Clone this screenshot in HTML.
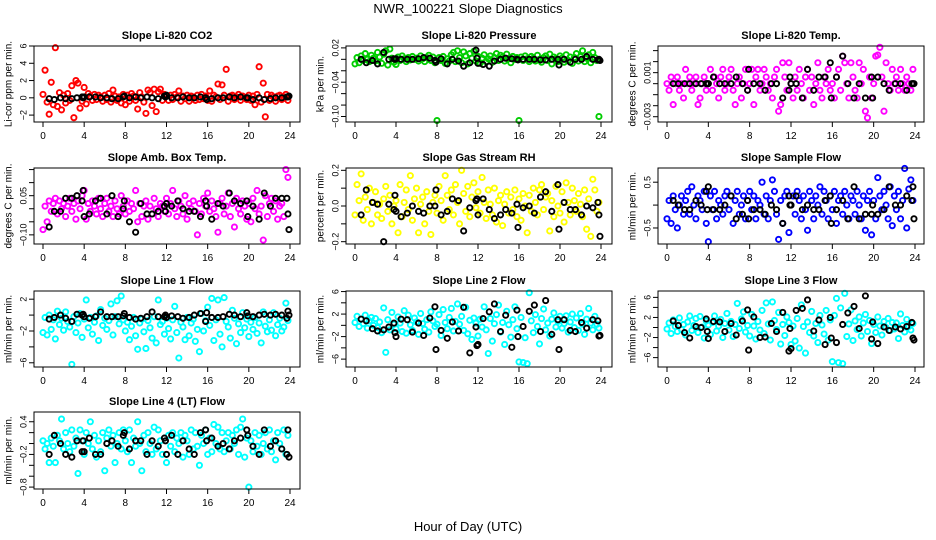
<!DOCTYPE html>
<html><head><meta charset="utf-8"><style>
body{margin:0;background:#fff;}
svg{display:block;font-family:"Liberation Sans",sans-serif;}
</style></head><body>
<svg id="chart" width="936" height="540" viewBox="0 0 936 540" xmlns="http://www.w3.org/2000/svg">
<rect width="936" height="540" fill="#fff"/>
<text x="468" y="13" text-anchor="middle" font-size="13">NWR_100221  Slope Diagnostics</text>
<text x="468" y="531" text-anchor="middle" font-size="13">Hour of Day (UTC)</text>
<g id="panels"></g>
</svg>
<script>
const hours = [0.0,0.2,0.4,0.6,0.8,1.0,1.2,1.4,1.6,1.8,2.0,2.2,2.4,2.6,2.8,3.0,3.2,3.4,3.6,3.8,4.0,4.2,4.4,4.6,4.8,5.0,5.2,5.4,5.6,5.8,6.0,6.2,6.4,6.6,6.8,7.0,7.2,7.4,7.6,7.8,8.0,8.2,8.4,8.6,8.8,9.0,9.2,9.4,9.6,9.8,10.0,10.2,10.4,10.6,10.8,11.0,11.2,11.4,11.6,11.8,12.0,12.2,12.4,12.6,12.8,13.0,13.2,13.4,13.6,13.8,14.0,14.2,14.4,14.6,14.8,15.0,15.2,15.4,15.6,15.8,16.0,16.2,16.4,16.6,16.8,17.0,17.2,17.4,17.6,17.8,18.0,18.2,18.4,18.6,18.8,19.0,19.2,19.4,19.6,19.8,20.0,20.2,20.4,20.6,20.8,21.0,21.2,21.4,21.6,21.8,22.0,22.2,22.4,22.6,22.8,23.0,23.2,23.4,23.6,23.8];
const refHours = [0.6,1.1,1.7,2.2,2.8,3.3,3.8,3.9,4.0,4.5,5.1,5.6,6.2,6.7,7.3,7.8,7.9,8.4,9.0,9.5,10.1,10.6,11.2,11.8,11.9,12.0,12.5,13.1,13.6,14.2,14.7,15.3,15.8,15.9,16.4,17.0,17.5,18.1,18.6,19.2,19.8,19.9,20.4,21.0,21.5,22.1,22.6,23.2,23.7,23.8,23.9];
const xTicks = [0,4,8,12,16,20,24];

const co2Vals = [0.4,3.2,-0.5,-1.9,1.8,-0.8,5.8,-1.0,0.6,-1.4, 0.3,-0.6,0.5,-0.3,1.4,-2.3,2.0,1.7,-1.2,-0.4, 1.2,-0.7,0.5,0.2,-0.3,0.4,-0.2,0.3,0.1,-0.4, 0.3,-0.2,0.5,-0.5,0.9,0.2,-0.3,0.1,-0.6,0.4, -0.8,0.3,-0.4,0.5,0.2,-0.3,-1.3,0.6,0.1,-0.5, -1.8,0.9,0.6,-0.9,1.0,-1.6,0.7,1.0,-0.3,0.4, 0.2,-0.3,0.3,-0.2,0.4,0.1,0.8,-0.4,0.2,-0.1, 0.3,-0.4,0.2,0.1,-0.3,0.3,-0.2,0.4,-0.1,0.2, -0.3,0.8,-0.4,0.3,0.1,1.6,-0.2,1.5,0.3,3.3, -0.4,0.2,0.3,-0.2,0.1,0.4,-0.3,0.2,0.0,-0.2, 0.3,-0.3,0.2,-0.8,0.4,3.6,-0.5,1.7,-2.2,0.4, -0.3,0.3,0.1,-0.4,0.2,0.3,-0.2,0.1,0.4,-0.3];
const co2Ref = [-0.1,-0.2,0.0,-0.1,-0.1,0.0,0.1,0.0,0.1,0.1,0.1,0.0,0.0,-0.1,-0.1,0.1,0.2,0.0,0.1,0.0,0.1,0.0,-0.1,0.2,0.1,0.3,0.0,0.0,0.1,0.0,0.0,0.1,0.0,-0.2,-0.1,0.0,0.0,0.1,0.0,0.1,0.0,0.0,-0.2,0.0,-0.2,-0.1,0.0,0.0,0.1,0.1,0.2];
const presVals = [-0.008,0.003,-0.006,0.006,-0.002,0.010,0.000,-0.004,0.007,0.002, -0.003,0.012,0.004,-0.007,0.009,0.015,-0.010,0.018,0.002,-0.005, -0.009,0.004,-0.002,0.006,0.001,-0.004,0.003,-0.001,0.005,0.000, 0.002,-0.003,0.006,0.001,-0.004,0.003,0.007,-0.002,0.004,-0.006, -0.107,0.003,-0.002,0.005,-0.007,0.001,-0.003,0.008,0.012,-0.004, 0.015,0.003,-0.006,0.013,0.006,-0.008,0.010,0.002,0.014,-0.003, 0.005,-0.007,0.002,0.008,-0.004,0.001,0.006,-0.005,0.003,0.010, -0.002,0.007,0.004,-0.003,0.009,0.001,-0.006,0.005,0.000,0.003, -0.107,0.004,-0.002,0.006,0.001,-0.004,0.005,0.002,-0.003,0.007, 0.000,-0.005,0.003,0.006,-0.002,0.009,-0.008,0.004,0.001,-0.004, 0.006,0.002,-0.005,0.008,-0.002,0.004,-0.007,0.003,0.010,-0.003, 0.005,0.015,-0.004,0.002,0.008,-0.006,0.012,0.003,-0.002,-0.100];
const presRef = [0.000,-0.006,-0.002,-0.008,0.012,0.000,0.001,0.000,0.001,0.000,0.000,0.000,0.001,0.003,0.002,-0.002,-0.005,0.001,-0.008,0.000,-0.003,-0.012,-0.006,0.016,0.002,-0.007,-0.009,-0.012,-0.003,0.000,0.002,0.001,0.000,-0.001,0.000,0.000,0.000,-0.001,-0.001,0.000,0.000,-0.010,0.000,-0.005,0.000,0.000,0.005,0.000,-0.001,0.000,-0.002];
const tempVals = [0,-.0006,.0006,-.0019,0,.0006,-.0006,0,-.0013,.0013, 0,.0006,-.0006,0,.0006,-.0019,-.0013,0,.0006,-.0006, 0,.0013,-.0006,.0006,0,-.0013,.0006,.0013,-.0006,0, .0006,.0013,-.0006,-.0019,0,.0006,-.0013,0,.0013,-.0006, 0,.0013,-.0019,.0006,.0013,-.0006,0,.0013,.0006,-.0006, 0,-.0013,.0006,.0013,-.0025,-.0019,.0019,.0006,-.0006,.0019, 0,-.0013,.0006,-.0006,.0013,0,-.0013,.0006,.0013,-.0006, .0006,-.0019,0,.0019,-.0006,-.0013,.0006,0,.0013,-.0006, 0,-.0013,.0006,.0013,-.0006,.0025,.0019,0,-.0013,.0019, .0006,-.0006,-.0013,.0019,0,.0013,-.0025,-.0031,.0006,-.0013, 0,.0025,.0026,.0033,.0006,-.0025,.0019,0,-.0006,.0013, 0,.0006,-.0006,.0013,0,-.0006,.0006,0,-.0006,.0013];
const tempRef = [0,0,0,0,0,0,0,0,0,.0006,0,0,0,.0006,0,-.0006,.0013,0,0,-.0006,0,0,-.0013,-.0006,.0006,0,0,-.0013,.0013,-.0006,.0006,.0006,.0019,-.0013,.0006,.0025,0,-.0013,0,-.0013,.0006,-.0013,.0006,0,-.0006,0,0,-.0006,0,0,0];
const ambVals = [-0.08,0.01,-0.05,0.03,-0.01,0.02,0.04,-0.02,0.03,0.00, 0.02,-0.03,0.01,0.04,-0.01,0.02,-0.04,0.03,0.00,0.05, 0.07,-0.04,0.02,-0.01,0.03,0.01,-0.02,0.04,0.00,-0.03, 0.02,0.04,-0.01,0.01,-0.03,0.03,0.00,-0.02,0.05,0.01, -0.02,0.03,-0.01,0.02,0.00,0.07,-0.05,0.02,-0.03,0.01, 0.03,-0.04,0.01,-0.02,0.04,0.00,-0.03,0.02,0.01,-0.01, 0.04,-0.02,0.02,0.07,0.00,-0.03,0.03,0.01,-0.02,0.05, -0.04,0.02,0.00,0.03,-0.01,-0.10,0.02,-0.02,0.04,0.01, 0.06,-0.01,0.03,0.00,-0.03,-0.09,0.02,0.04,-0.02,0.01, 0.06,-0.03,0.02,-0.07,0.04,0.00,-0.02,0.03,0.01,-0.04, 0.02,-0.05,0.04,0.00,0.07,-0.02,0.01,-0.12,0.05,-0.03, 0.02,0.04,-0.01,0.03,-0.04,0.01,0.02,-0.03,0.15,0.12];
const ambRef = [-0.07,-0.01,-0.01,0.04,0.04,0.05,0.03,0.07,-0.03,-0.02,0.03,0.04,-0.02,0.05,-0.03,0.00,0.03,-0.05,-0.09,0.02,-0.02,-0.02,-0.01,0.01,-0.01,0.02,0.01,0.03,0.00,-0.01,-0.01,-0.03,0.03,0.01,-0.04,0.02,0.01,0.06,0.03,0.02,0.03,-0.03,0.01,-0.04,0.06,0.01,0.04,0.04,0.04,-0.02,-0.08];
const rhVals = [-0.05,0.12,0.03,0.18,-0.08,0.05,-0.02,0.10,-0.10,0.02, 0.08,-0.05,0.01,-0.07,0.04,0.11,-0.03,0.06,-0.10,0.00, 0.03,-0.15,0.12,-0.06,0.02,0.09,-0.02,0.17,-0.08,0.04, 0.10,-0.15,0.01,0.05,-0.10,0.08,-0.03,-0.16,0.02,0.06, -0.04,0.11,0.03,-0.08,0.17,0.06,-0.02,0.09,-0.05,0.12, 0.02,-0.10,0.20,0.07,-0.03,0.11,-0.06,0.05,0.13,-0.01, 0.08,-0.04,0.16,0.02,-0.07,0.09,0.01,-0.05,0.10,-0.09, 0.03,0.06,-0.11,0.01,0.08,-0.04,0.05,-0.02,0.09,-0.06, 0.04,-0.08,0.07,0.00,-0.15,0.06,-0.03,0.10,0.02,-0.05, 0.09,0.12,-0.02,0.05,0.07,-0.14,0.03,-0.06,0.11,0.00, -0.04,0.08,-0.09,0.13,0.02,-0.05,0.10,0.03,-0.03,0.07, 0.01,-0.06,0.09,-0.13,0.04,-0.17,0.15,0.09,-0.03,0.02];
const rhRef = [-0.05,0.09,0.02,0.01,-0.20,0.01,-0.02,0.06,-0.03,-0.06,-0.04,0.00,-0.03,-0.04,0.00,0.00,0.09,-0.05,-0.03,0.04,0.03,-0.14,-0.01,0.03,0.04,-0.05,0.04,-0.02,-0.07,-0.05,-0.02,-0.04,0.01,-0.12,-0.01,0.00,-0.04,0.05,0.08,-0.03,0.12,-0.13,0.02,-0.02,-0.02,-0.05,0.00,-0.01,0.02,-0.05,-0.17];
const sampleVals = [-0.3,0.1,-0.4,0.2,-0.1,-0.5,0.0,0.2,-0.2,0.1, 0.3,-0.2,0.4,0.0,-0.3,0.2,0.1,-0.1,0.3,-0.4, -0.8,0.2,-0.1,0.3,-0.3,0.1,0.0,-0.2,0.2,0.3, -0.1,0.2,-0.4,0.1,0.3,-0.2,0.0,0.2,-0.3,0.1, 0.3,-0.1,0.2,-0.3,0.1,0.0,0.5,-0.2,0.2,-0.3, 0.1,0.55,0.3,-0.2,-0.75,0.1,-0.4,0.2,0.3,-0.6, 0.0,0.2,-0.2,0.3,0.1,-0.3,0.2,-0.1,-0.55,0.3, 0.1,-0.3,0.2,0.0,0.4,-0.2,0.3,0.1,-0.3,0.2, -0.1,0.3,-0.4,0.1,0.2,-0.2,0.3,0.0,-0.3,0.2, 0.1,-0.2,0.3,0.0,-0.3,0.2,-0.55,0.1,0.3,-0.65, 0.1,-0.3,0.6,0.2,-0.1,0.3,0.0,-0.3,0.4,-0.45, 0.2,-0.1,0.3,-0.3,0.1,0.8,-0.5,0.35,0.55,0.1];
const sampleRef = [0.1,0.0,-0.1,-0.1,0.1,0.0,0.3,-0.1,0.4,-0.1,-0.1,0.0,0.2,-0.3,-0.2,0.1,-0.3,-0.1,-0.1,-0.2,0.0,-0.1,-0.4,0.2,0.0,0.0,0.2,-0.1,0.0,-0.1,-0.1,0.1,0.2,-0.4,-0.1,0.1,-0.3,0.4,-0.3,-0.2,-0.2,0.0,-0.2,-0.1,0.4,0.0,0.0,0.2,0.1,0.4,-0.3];
const line1Vals = [-2.2,-0.3,-2.5,0.0,-1.8,-0.6,-3.0,0.5,-1.2,-0.4, -1.9,0.4,-0.8,-1.5,-6.2,-0.2,-2.2,-1.0,0.2,-2.8, -0.5,1.9,-1.6,-0.3,-2.4,-0.9,-0.1,-3.2,0.7,-1.3, -0.4,-1.8,-0.7,1.4,-2.5,-0.2,1.8,-1.1,2.4,-0.6, -2.0,-0.9,-3.1,-1.4,-0.3,-2.6,-4.3,-1.0,-0.5,-2.1, -4.2,-0.7,-1.6,-2.9,-0.2,-3.5,1.9,-1.2,-0.8,-2.4, -0.4,-1.7,-3.0,-0.6,1.1,-2.2,-5.4,-0.9,-1.5,-3.1, -0.3,-2.6,-1.0,-0.5,-3.3,-1.8,-4.6,0.2,-2.0,-0.7, 1.0,-1.3,2.1,-3.2,-0.6,1.9,-2.4,-4.0,2.2,-0.8, -1.5,-2.9,0.6,-0.4,-3.6,-1.1,-2.2,0.3,-1.6,-0.5, -2.7,-0.9,-1.8,-0.3,-2.3,-1.0,-3.5,0.4,-1.4,-2.1, -0.6,-1.9,0.3,-2.6,-1.2,-0.4,-2.0,-1.5,1.5,-0.7];
const line1Ref = [-0.5,-0.3,0.0,-0.4,-0.8,0.1,0.0,0.1,-0.2,-0.4,-0.2,0.4,-0.2,-0.2,-0.2,-0.1,0.2,-0.3,-0.5,-0.4,-0.2,0.4,-0.2,-0.2,0.0,-0.3,-0.1,-0.2,-0.4,-0.3,0.0,0.2,-0.8,0.3,-0.3,-0.3,-0.2,0.1,0.0,-0.2,0.3,-0.1,-0.2,0.0,0.1,0.0,0.1,0.0,-0.4,0.5,0.0];
const line2Vals = [0.5,1.6,-0.2,1.1,0.3,1.8,-0.5,0.8,1.4,0.0, 1.2,-0.4,0.6,-1.3,3.1,-4.8,1.0,-0.8,2.3,0.2, -0.6,1.5,0.4,-1.1,2.6,-1.4,1.8,0.1,-0.9,1.3, 0.6,-1.6,2.1,0.3,-0.7,1.0,-1.2,2.4,0.8,-0.2, 0.2,1.9,-1.8,2.8,0.5,-0.6,1.4,3.0,-1.0,0.7, 3.8,0.2,1.6,-0.9,3.2,-1.5,0.9,-2.5,1.3,0.4, -1.9,1.1,-0.3,3.3,-0.8,-5.0,1.2,-2.8,0.3,1.9, 3.6,-1.2,0.5,-3.4,2.5,0.1,-2.1,1.0,3.3,-0.6, -6.5,1.4,-6.6,-2.2,-6.8,5.8,0.8,-1.3,1.9,-0.2, -3.3,1.2,2.9,-0.8,0.4,-1.9,1.1,2.2,-0.3,0.7, 1.6,-0.5,0.3,1.7,-1.2,0.6,2.0,-0.4,1.3,-0.9, 2.1,0.2,-1.6,1.1,3.0,0.4,-0.8,1.6,0.2,-0.5];
const line2Ref = [1.1,0.8,-0.6,-1.0,-0.8,-0.3,0.4,-1.3,-2.0,1.1,1.0,-1.2,0.4,-1.8,1.3,3.3,-4.3,-0.9,-2.3,0.6,-1.0,3.2,-4.9,-0.3,-3.6,-3.4,1.2,2.4,3.8,-1.1,1.8,-3.9,2.7,-2.0,-0.2,2.5,3.6,-1.1,4.4,-1.6,1.0,-4.3,1.0,-0.9,-1.1,0.5,-0.5,1.0,0.8,-1.9,-1.8];
const line3Vals = [-0.3,0.9,-1.2,1.5,0.2,-0.8,1.9,-0.4,0.6,-1.5, 1.1,2.3,-0.6,0.4,1.8,-1.0,2.2,0.1,-2.1,1.3, 0.5,-1.4,1.0,2.3,-0.7,0.3,1.6,-2.0,0.8,2.8, -0.5,1.2,-1.8,0.6,4.8,-0.2,1.7,3.1,-0.9,0.4, -1.7,2.6,0.3,-2.3,1.2,-0.5,3.4,-1.2,4.9,0.7, -2.5,5.1,1.4,-0.4,3.0,-3.3,0.6,-1.6,2.1,1.0, -3.4,0.3,-2.7,1.8,-4.1,4.5,0.2,-5.1,1.1,-1.0, 3.2,-1.7,0.8,-3.0,2.4,0.5,-1.3,3.4,-2.5,1.5, -6.8,2.4,5.8,-7.0,3.9,-7.2,6.8,-1.8,0.7,3.5, -2.6,1.3,-0.4,2.1,-1.7,0.9,2.6,-0.8,1.4,-3.2, 0.6,-1.0,2.1,0.3,-1.5,1.2,0.0,1.8,-0.6,1.0, -0.3,0.9,-2.2,2.7,0.4,-0.9,1.6,0.2,-0.5,0.8];
const line3Ref = [1.3,0.4,-1.0,-2.1,0.2,0.0,1.7,-0.8,-2.2,1.2,1.1,-0.8,0.8,-1.5,1.3,3.5,-4.5,2.1,-2.0,-1.9,0.8,-0.8,3.0,-4.7,-0.2,-4.2,3.4,3.8,5.5,-0.7,1.5,-3.4,2.0,-2.1,-3.0,0.6,2.9,4.2,-0.2,6.3,-2.3,1.1,-3.2,0.1,-0.6,0.1,-0.3,0.2,1.0,-2.1,-2.5];
const line4Vals = [0.05,-0.1,0.0,-0.35,0.1,-0.05,-0.35,0.15,0.05,0.45, -0.1,0.2,0.0,-0.15,0.25,-0.05,0.1,-0.55,0.25,0.05, -0.2,0.2,0.0,0.4,-0.1,0.15,-0.25,0.05,-0.15,0.2, -0.5,0.1,0.25,-0.05,0.15,-0.35,0.0,0.2,-0.1,0.25, 0.05,-0.15,0.25,-0.35,0.1,-0.05,0.4,0.0,-0.5,0.15, -0.15,0.2,0.0,-0.2,0.3,-0.1,0.25,0.05,-0.2,0.1, -0.35,0.15,-0.05,0.2,-0.15,0.1,0.0,0.2,-0.25,0.15, 0.05,-0.2,0.25,-0.1,0.2,-0.05,-0.4,0.15,0.0,0.25, -0.2,0.1,-0.15,0.35,0.0,0.3,-0.1,0.2,-0.15,0.05, 0.2,-0.1,0.15,0.0,0.25,-0.2,0.3,0.45,-0.25,0.1, -0.8,0.05,-0.15,0.2,-0.05,0.15,-0.2,0.0,0.2,-0.1, 0.25,-0.15,0.05,-0.3,0.2,0.0,-0.1,0.25,-0.2,0.15];
const line4Ref = [-0.2,0.15,0.0,-0.2,-0.25,0.05,-0.15,0.05,-0.15,0.1,-0.2,-0.2,0.0,0.05,-0.05,0.15,0.2,-0.1,0.05,0.05,-0.2,0.05,-0.05,0.1,0.05,-0.2,0.15,-0.2,0.05,-0.1,-0.2,0.2,0.25,0.05,0.1,-0.05,0.0,-0.1,0.05,0.1,0.25,0.15,-0.05,-0.2,0.25,-0.05,0.05,-0.1,-0.2,0.25,-0.25];

const co2Ticks = [-2,0,2,4,6], co2Labels = ["\u22122","0","2","4","6"];
const presTicks = [-0.10,-0.08,-0.06,-0.04,-0.02,0,0.02], presLabels = ["\u22120.10","","","\u22120.04","","","0.02"];
const tempTicks = [-0.003,-0.002,-0.001,0,0.001,0.002,0.003], tempLabels = ["\u22120.003","","","","0.001","",""];
const ambTicks = [-0.10,-0.05,0,0.05,0.10,0.15], ambLabels = ["\u22120.10","","","0.05","",""];
const rhTicks = [-0.2,-0.1,0,0.1,0.2], rhLabels = ["\u22120.2","","0.0","","0.2"];
const sampleTicks = [-0.5,0,0.5], sampleLabels = ["\u22120.5","","0.5"];
const line1Ticks = [-6,-4,-2,0,2], line1Labels = ["\u22126","","\u22122","","2"];
const line2Ticks = [-6,-4,-2,0,2,4,6], line2Labels = ["\u22126","","\u22122","","2","","6"];
const line3Ticks = [-6,-4,-2,0,2,4,6], line3Labels = ["\u22126","","\u22122","","2","","6"];
const line4Ticks = [-0.8,-0.6,-0.4,-0.2,0,0.2,0.4], line4Labels = ["\u22120.8","","","\u22120.2","","","0.4"];

const cols = [{l:34,r:300,x0:43,x1:290,yl:9,tl:24},{l:346,r:612,x0:355,x1:601,yl:321,tl:336},{l:658,r:924,x0:667,x1:915,yl:633,tl:648}];
const rows = [{t:46,b:122},{t:168,b:244},{t:291,b:367},{t:412,b:489}];
const panels = [
 {name:"co2",title:"Slope Li-820 CO2",yl:"Li-cor ppm per min.",c:0,r:0,min:-2.8,max:6.0,vals:co2Vals,ref:co2Ref,ticks:co2Ticks,labels:co2Labels,col:"#ff0000"},
 {name:"pressure",title:"Slope Li-820 Pressure",yl:"kPa per min.",c:1,r:0,min:-0.1096,max:0.0233,vals:presVals,ref:presRef,ticks:presTicks,labels:presLabels,col:"#00cd00"},
 {name:"temp",title:"Slope Li-820 Temp.",yl:"degrees C per min.",c:2,r:0,min:-0.00348,max:0.00342,vals:tempVals,ref:tempRef,ticks:tempTicks,labels:tempLabels,col:"#ff00ff"},
 {name:"amb-box-temp",title:"Slope Amb. Box Temp.",yl:"degrees C per min.",c:0,r:1,min:-0.135,max:0.156,vals:ambVals,ref:ambRef,ticks:ambTicks,labels:ambLabels,col:"#ff00ff"},
 {name:"gas-stream-rh",title:"Slope Gas Stream RH",yl:"percent per min.",c:1,r:1,min:-0.213,max:0.213,vals:rhVals,ref:rhRef,ticks:rhTicks,labels:rhLabels,col:"#ffff00"},
 {name:"sample-flow",title:"Slope Sample Flow",yl:"ml/min per min.",c:2,r:1,min:-0.85,max:0.81,vals:sampleVals,ref:sampleRef,ticks:sampleTicks,labels:sampleLabels,col:"#0000ff"},
 {name:"line1-flow",title:"Slope Line 1 Flow",yl:"ml/min per min.",c:0,r:2,min:-6.53,max:3.03,vals:line1Vals,ref:line1Ref,ticks:line1Ticks,labels:line1Labels,col:"#00ffff"},
 {name:"line2-flow",title:"Slope Line 2 Flow",yl:"ml/min per min.",c:1,r:2,min:-7.4,max:6.1,vals:line2Vals,ref:line2Ref,ticks:line2Ticks,labels:line2Labels,col:"#00ffff"},
 {name:"line3-flow",title:"Slope Line 3 Flow",yl:"ml/min per min.",c:2,r:2,min:-7.87,max:7.27,vals:line3Vals,ref:line3Ref,ticks:line3Ticks,labels:line3Labels,col:"#00ffff"},
 {name:"line4-flow",title:"Slope Line 4 (LT) Flow",yl:"ml/min per min.",c:0,r:3,min:-0.835,max:0.579,vals:line4Vals,ref:line4Ref,ticks:line4Ticks,labels:line4Labels,col:"#00ffff"}
];
const NS="http://www.w3.org/2000/svg";
function mk(tag,attrs,parent,txt){const e=document.createElementNS(NS,tag);for(const k in attrs)e.setAttribute(k,attrs[k]);if(txt!==undefined)e.textContent=txt;parent.appendChild(e);return e;}
const root=document.getElementById('panels');
panels.forEach(p=>{
  const C=cols[p.c],R=rows[p.r];
  const xs=h=>C.x0+(h/24)*(C.x1-C.x0);
  const ys=v=>R.b-(v-p.min)/(p.max-p.min)*(R.b-R.t);
  const g=mk('g',{},root);
  
  
  const t=mk('text',{x:(C.l+C.r)/2,y:R.t-7,'text-anchor':'middle','font-size':'11','font-weight':'bold'},g,p.title);
  
  
  const cy=(R.t+R.b)/2;
  const yt=mk('text',{x:C.yl,y:cy,'text-anchor':'middle','font-size':'10',transform:`rotate(-90 ${C.yl} ${cy})`,'dominant-baseline':'middle'},g,p.yl);
  
  
  const pts=mk('g',{fill:'none',stroke:p.col,'stroke-width':'1.9'},g);
  
  
  const n=Math.min(hours.length,p.vals.length);
  for(let i=0;i<n;i++){const c=mk('circle',{cx:xs(hours[i]),cy:ys(p.vals[i]),r:2.6},pts);
    
    }
  const rp=mk('g',{fill:'none',stroke:'#000','stroke-width':'1.9'},g);
  
  
  const m=Math.min(refHours.length,p.ref.length);
  for(let i=0;i<m;i++){const c=mk('circle',{cx:xs(refHours[i]),cy:ys(p.ref[i]),r:2.6},rp);
    
    }
  const box=mk('rect',{x:C.l,y:R.t,width:C.r-C.l,height:R.b-R.t,fill:'none',stroke:'#000','stroke-width':'1'},g);
  
  
  const xa=mk('g',{},g);
  
  
  xTicks.forEach(v=>{const x=xs(v);mk('line',{x1:x,x2:x,y1:R.b,y2:R.b+5,stroke:'#000'},xa);
    mk('text',{x:x,y:R.b+17,'text-anchor':'middle','font-size':'10'},xa,String(v));});
  const ya=mk('g',{},g);
  
  
  p.ticks.forEach((v,i)=>{const y=ys(v);mk('line',{x1:C.l-5,x2:C.l,y1:y,y2:y,stroke:'#000'},ya);
    if(p.labels[i])mk('text',{x:C.tl,y:y,'text-anchor':'middle','font-size':'9','dominant-baseline':'middle',transform:`rotate(-90 ${C.tl} ${y})`},ya,p.labels[i]);});
});
</script>
</body></html>
